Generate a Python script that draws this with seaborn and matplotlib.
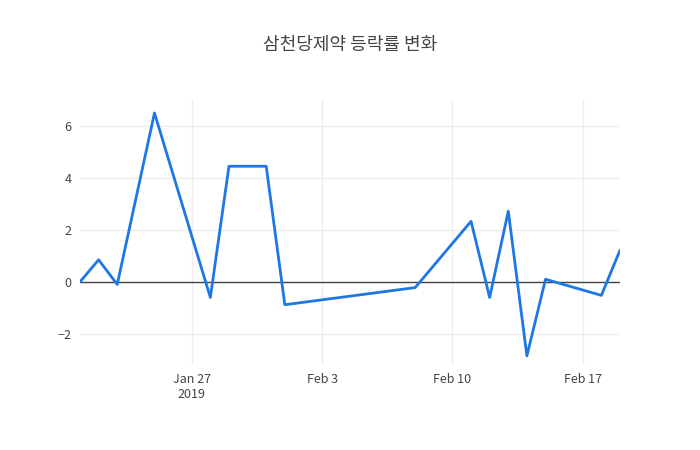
import matplotlib
matplotlib.use("Agg")
import matplotlib.pyplot as plt
import matplotlib.dates as mdates
import seaborn as sns
import pandas as pd

dates = ["2019-01-21","2019-01-22","2019-01-23","2019-01-25","2019-01-28","2019-01-29",
         "2019-01-31","2019-02-01","2019-02-08","2019-02-11","2019-02-12","2019-02-13",
         "2019-02-14","2019-02-15","2019-02-18","2019-02-19"]
values = [0.0, 0.85, -0.1, 6.5, -0.6, 4.45, 4.45, -0.88, -0.22, 2.33, -0.6, 2.72,
          -2.85, 0.1, -0.52, 1.22]
title = "삼천당제약 등락률 변화"

sns.set_style("white")
plt.rcParams['font.family'] = ['Noto Sans CJK KR', 'DejaVu Sans']
df = pd.DataFrame({"date": pd.to_datetime(dates), "v": values})

fig = plt.figure(figsize=(7, 4.5), dpi=100)
ax = fig.add_axes([80/700, 1-365/450, 540/700, 265/450])
sns.lineplot(data=df, x="date", y="v", ax=ax, color="#1f77e4", linewidth=2)
ax.axhline(0, color="#444444", linewidth=1, zorder=1)
ax.set_xlim(pd.Timestamp("2019-01-21"), pd.Timestamp("2019-02-19"))
ax.set_ylim(-3.2, 7.0)
ax.set_yticks([-2, 0, 2, 4, 6])
ax.set_yticklabels(["−2", "0", "2", "4", "6"])
ticks = pd.to_datetime(["2019-01-27", "2019-02-03", "2019-02-10", "2019-02-17"])
ax.set_xticks(ticks)
ax.set_xticklabels(["Jan 27\n2019", "Feb 3", "Feb 10", "Feb 17"])
ax.grid(True, color="#eeeeee", linewidth=1)
ax.set_axisbelow(True)
for s in ax.spines.values():
    s.set_visible(False)
ax.tick_params(length=0, labelsize=9, colors="#444444", pad=6)
ax.set_xlabel("")
ax.set_ylabel("")
fig.text(350/700, 1-45/450, title, ha="center", va="center", fontsize=13, color="#444444")
fig.savefig("out.png", dpi=100)
